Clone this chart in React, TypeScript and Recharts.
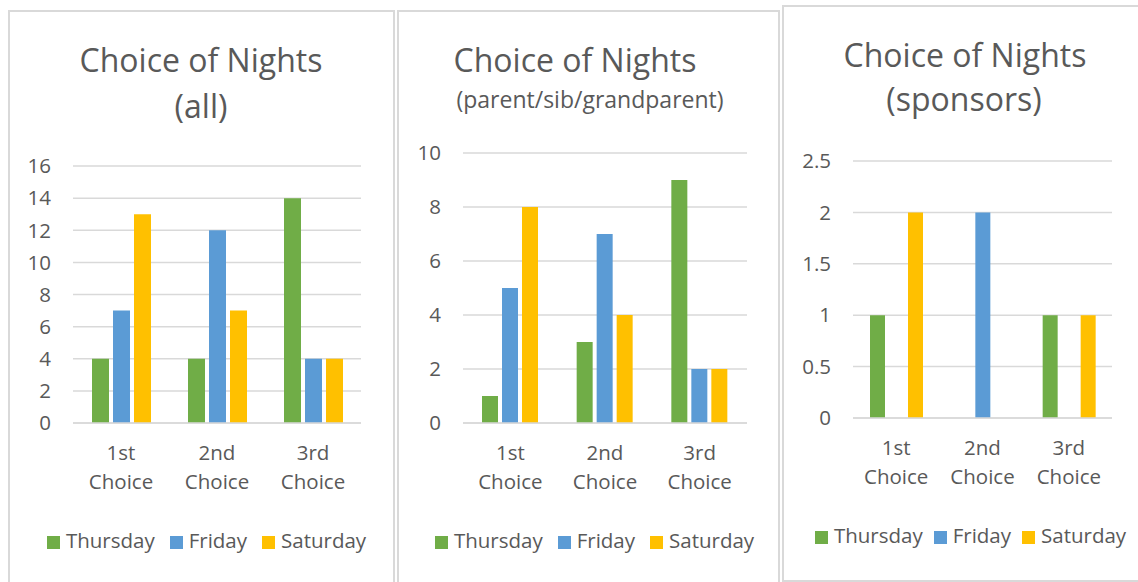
import { BarChart, Bar, XAxis, YAxis, CartesianGrid, Legend } from 'recharts'

// categories + values
const categories = ['1st Choice', '2nd Choice', '3rd Choice']
const seriesNames = ['Thursday', 'Friday', 'Saturday']

const allThursday = [4, 4, 14]
const allFriday = [7, 12, 4]
const allSaturday = [13, 7, 4]
const allTicks = [0, 2, 4, 6, 8, 10, 12, 14, 16]

const familyThursday = [1, 3, 9]
const familyFriday = [5, 7, 2]
const familySaturday = [8, 4, 2]
const familyTicks = [0, 2, 4, 6, 8, 10]

const sponsorThursday = [1, 0, 1]
const sponsorFriday = [0, 2, 0]
const sponsorSaturday = [2, 0, 1]
const sponsorTicks = [0, 0.5, 1, 1.5, 2, 2.5]

const FONT = '"Open Sans", "Noto Sans", sans-serif'
const TEXT = '#595959'
const GRID = '#d9d9d9'
const GREEN = '#70ad47'
const BLUE = '#5b9bd5'
const GOLD = '#ffc000'

const build = (thu: number[], fri: number[], sat: number[]) =>
  categories.map((c, i) => ({ name: c, Thursday: thu[i], Friday: fri[i], Saturday: sat[i] }))

const CategoryTick = (props: any) => {
  const { x, y, payload } = props
  const [first, second] = String(payload.value).split(' ')
  return (
    <text x={x} y={y} textAnchor="middle" fill={TEXT} fontSize={20.5} fontFamily={FONT}>
      <tspan x={x} dy={29}>{first}</tspan>
      <tspan x={x} dy={29}>{second}</tspan>
    </text>
  )
}

type PanelProps = {
  left: number
  top: number
  width: number
  height: number
  chartWidth: number
  margin: { top: number; right: number; bottom: number; left: number }
  data: any[]
  ticks: number[]
  max: number
  barSize: number
  legendCenter: number
  legendTop: number
  legendGap: number
  titles: { text: string; size: number; center: number; top: number }[]
}

function Panel(p: PanelProps) {
  return (
    <>
      <div
        style={{
          position: 'absolute',
          left: p.left,
          top: p.top,
          width: p.width,
          height: p.height,
          border: `2px solid ${GRID}`,
          boxSizing: 'border-box',
          background: '#fff',
        }}
      />
      {p.titles.map((t, i) => (
        <div
          key={i}
          style={{
            position: 'absolute',
            left: t.center - 200,
            width: 400,
            top: t.top,
            textAlign: 'center',
            fontFamily: FONT,
            fontSize: t.size,
            color: TEXT,
            lineHeight: 1,
            whiteSpace: 'nowrap',
          }}
        >
          {t.text}
        </div>
      ))}
      <div style={{ position: 'absolute', left: p.left, top: 0 }}>
        <BarChart width={p.chartWidth} height={582} data={p.data} margin={p.margin} barGap={4} barSize={p.barSize}>
          <CartesianGrid vertical={false} stroke={GRID} strokeWidth={1.5} />
          <XAxis
            dataKey="name"
            tick={<CategoryTick />}
            tickLine={false}
            axisLine={{ stroke: GRID, strokeWidth: 1.5 }}
            height={70}
            interval={0}
          />
          <YAxis
            domain={[0, p.max]}
            ticks={p.ticks}
            tickLine={false}
            axisLine={false}
            width={45}
            tickMargin={16}
            tick={{ fill: TEXT, fontSize: 20.5, fontFamily: FONT }}
            interval={0}
          />
          <Legend
            layout="horizontal"
            verticalAlign="middle"
            align="center"
            iconType="square"
            iconSize={13}
            itemSorter={(item: any) => seriesNames.indexOf(item.value)}
            wrapperStyle={{
              top: p.legendTop,
              left: p.legendCenter - p.left - 180,
              width: 360,
              fontFamily: FONT,
              fontSize: 20.5,
              lineHeight: '27px',
            }}
            formatter={(v: any) => (
              <span style={{ color: TEXT, marginLeft: 2, marginRight: p.legendGap }}>{v}</span>
            )}
          />
          <Bar dataKey="Thursday" fill={GREEN} isAnimationActive={false} />
          <Bar dataKey="Friday" fill={BLUE} isAnimationActive={false} />
          <Bar dataKey="Saturday" fill={GOLD} isAnimationActive={false} />
        </BarChart>
      </div>
    </>
  )
}

export default function App() {
  return (
    <div style={{ position: 'absolute', left: 0, top: 0, width: 1138, height: 582, overflow: 'hidden', background: '#fff' }}>
      <Panel
        left={8}
        top={10}
        width={387}
        height={620}
        chartWidth={387}
        margin={{ top: 166, right: 34, bottom: 89, left: 20 }}
        data={build(allThursday, allFriday, allSaturday)}
        ticks={allTicks}
        max={16}
        barSize={17}
        legendCenter={214}
        legendTop={527}
        legendGap={5}
        titles={[
          { text: 'Choice of Nights', size: 32, center: 201, top: 44 },
          { text: '(all)', size: 32, center: 201, top: 90 },
        ]}
      />
      <Panel
        left={397}
        top={10}
        width={383}
        height={620}
        chartWidth={383}
        margin={{ top: 153, right: 33, bottom: 89, left: 21 }}
        data={build(familyThursday, familyFriday, familySaturday)}
        ticks={familyTicks}
        max={10}
        barSize={16}
        legendCenter={602}
        legendTop={527}
        legendGap={5}
        titles={[
          { text: 'Choice of Nights', size: 32, center: 575, top: 44 },
          { text: '(parent/sib/grandparent)', size: 23, center: 590, top: 88 },
        ]}
      />
      <Panel
        left={782}
        top={5}
        width={420}
        height={577}
        chartWidth={356}
        margin={{ top: 161, right: 26, bottom: 94, left: 26 }}
        data={build(sponsorThursday, sponsorFriday, sponsorSaturday)}
        ticks={sponsorTicks}
        max={2.5}
        barSize={15}
        legendCenter={976}
        legendTop={522}
        legendGap={1}
        titles={[
          { text: 'Choice of Nights', size: 32, center: 965, top: 39 },
          { text: '(sponsors)', size: 32, center: 964, top: 83 },
        ]}
      />
    </div>
  )
}
